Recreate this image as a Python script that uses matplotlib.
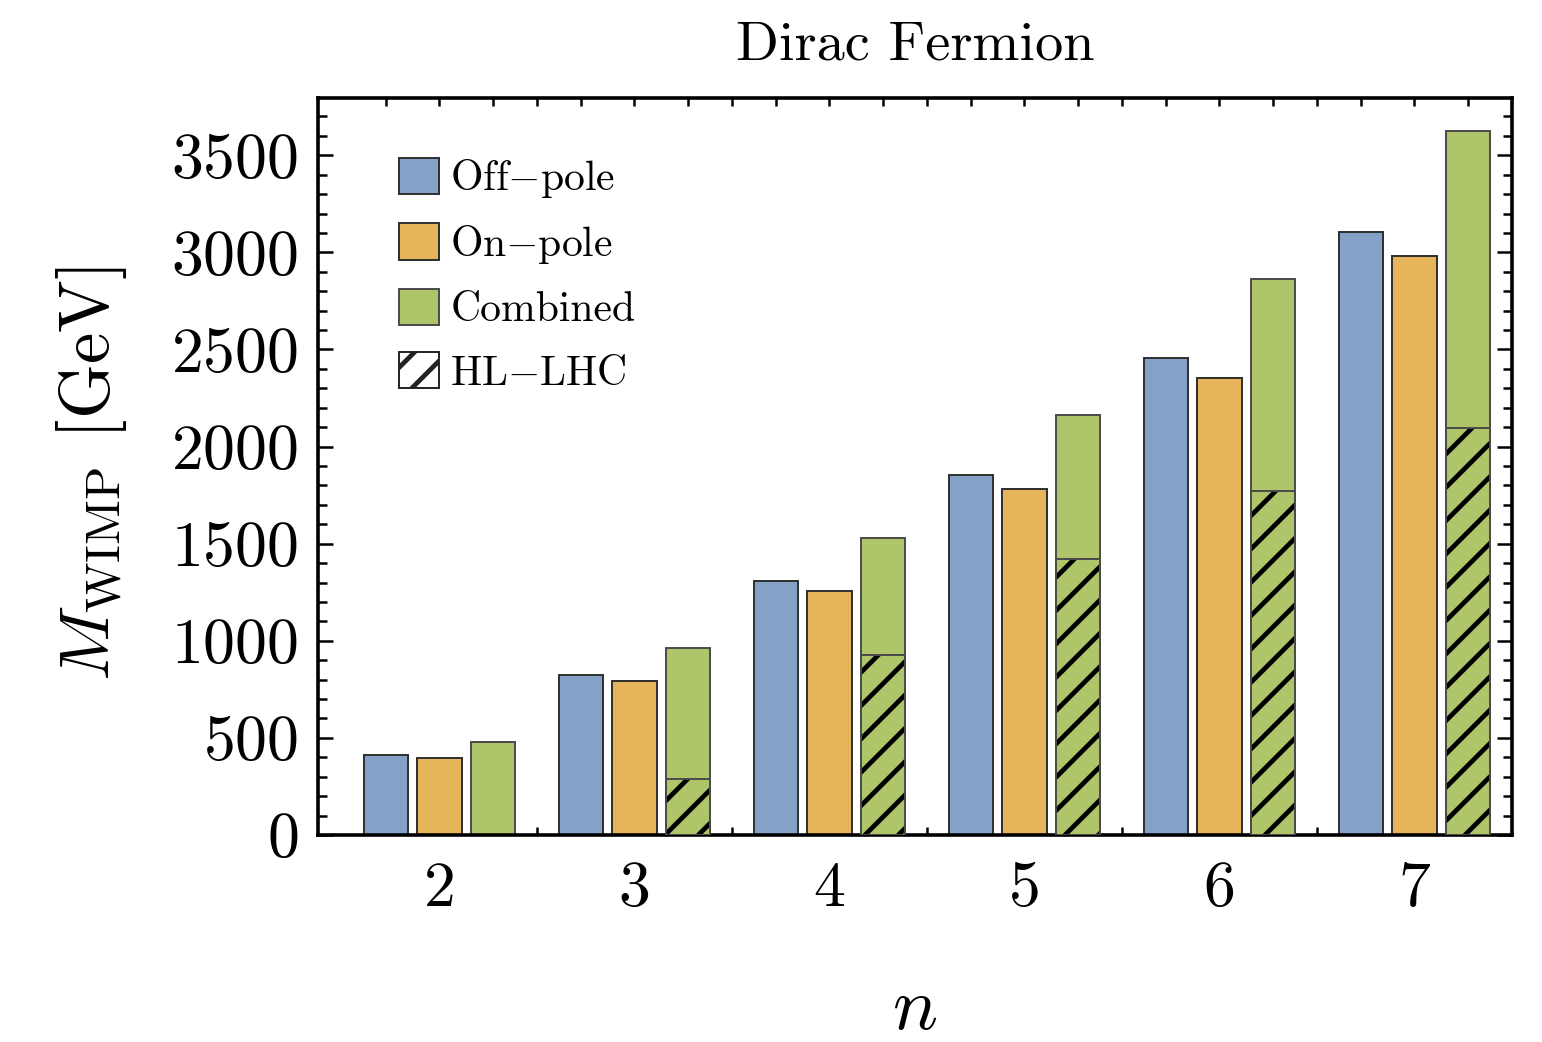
import matplotlib
matplotlib.use("Agg")
import matplotlib.pyplot as plt
from matplotlib.patches import Patch
from matplotlib.ticker import FixedLocator, FixedFormatter, MultipleLocator
import numpy as np

plt.rcParams['font.family'] = 'cmr10'
plt.rcParams['mathtext.fontset'] = 'cm'
plt.rcParams['axes.formatter.use_mathtext'] = True
plt.rcParams['hatch.color'] = 'black'
plt.rcParams['hatch.linewidth'] = 1.7

# ---- data ----
n_values = [2, 3, 4, 5, 6, 7]
off_pole = [412, 824, 1308, 1854, 2456, 3105]
on_pole = [396, 793, 1256, 1782, 2353, 2981]
combined = [479, 963, 1529, 2163, 2863, 3625]
hl_lhc = [0, 288, 927, 1421, 1771, 2096]
series_labels = ["Off${-}$pole", "On${-}$pole", "Combined", "HL${-}$LHC"]

c_blue = '#84A2C8'
c_orange = '#E6B45A'
c_green = '#AEC56A'
edge = '#2e2e2e'
edge_g = '#4a4a4a'

fig = plt.figure(figsize=(7.71, 5.21), dpi=200)
ax = fig.add_axes([318/1542, 1-835/1042, (1512-318)/1542, (835-98)/1042])

x = np.array(n_values, dtype=float)
d = 0.274
w = 0.226

ax.bar(x - d, off_pole, width=w, color=c_blue, edgecolor=edge, linewidth=0.7, zorder=2)
ax.bar(x, on_pole, width=w, color=c_orange, edgecolor=edge, linewidth=0.7, zorder=2)
ax.bar(x + d, combined, width=w, color=c_green, edgecolor=edge_g, linewidth=0.7, zorder=2)
hx = [xi + d for xi, h in zip(x, hl_lhc) if h > 0]
hh = [h for h in hl_lhc if h > 0]
ax.bar(hx, hh, width=w, color=c_green, edgecolor='black', linewidth=0, hatch='//', zorder=3)
ax.bar(hx, hh, width=w, fill=False, edgecolor=edge_g, linewidth=0.7, zorder=4)

ax.set_xlim(1.377, 7.5)
ax.set_ylim(0, 3795)

# x ticks: bar centres and group separators
tick_pos = []
tick_lab = []
for n in n_values:
    tick_pos += [n - d, n, n + d]
    tick_lab += ['', str(n), '']
for s in range(len(n_values) - 1):
    tick_pos.append(n_values[s] + 0.5)
    tick_lab.append('')
ax.xaxis.set_major_locator(FixedLocator(tick_pos))
ax.xaxis.set_major_formatter(FixedFormatter(tick_lab))

ax.yaxis.set_major_locator(MultipleLocator(500))
ax.yaxis.set_minor_locator(MultipleLocator(100))

ax.tick_params(axis='x', which='major', direction='in', length=3.0, width=0.9,
               top=True, labelsize=23, pad=9.5)
ax.tick_params(axis='y', which='major', direction='in', length=5.4, width=0.9,
               right=True, labelsize=23, pad=7)
ax.tick_params(axis='y', which='minor', direction='in', length=3.2, width=0.9, right=True)
for sp in ax.spines.values():
    sp.set_linewidth(1.3)

ax.set_title('Dirac Fermion', fontsize=20.3, pad=14)
ax.set_ylabel(r'$M_{\mathrm{WIMP}}$ [GeV]', fontsize=25.3)
ax.yaxis.set_label_coords(-0.158, 0.49)
ax.set_xlabel(r'$n$', fontsize=27)
ax.xaxis.set_label_coords(0.5, -0.192)

handles = [
    Patch(facecolor=c_blue, edgecolor=edge, linewidth=0.7),
    Patch(facecolor=c_orange, edgecolor=edge, linewidth=0.7),
    Patch(facecolor=c_green, edgecolor=edge_g, linewidth=0.7),
    Patch(facecolor='white', edgecolor='#222222', linewidth=0.7, hatch='//'),
]
ax.legend(handles, series_labels, loc='upper left', bbox_to_anchor=(0.068, 0.92),
          frameon=False, fontsize=15, handlelength=0.96, handleheight=0.96,
          handletextpad=0.27, labelspacing=0.55, borderpad=0, borderaxespad=0)

fig.savefig('out.png', dpi=200)
